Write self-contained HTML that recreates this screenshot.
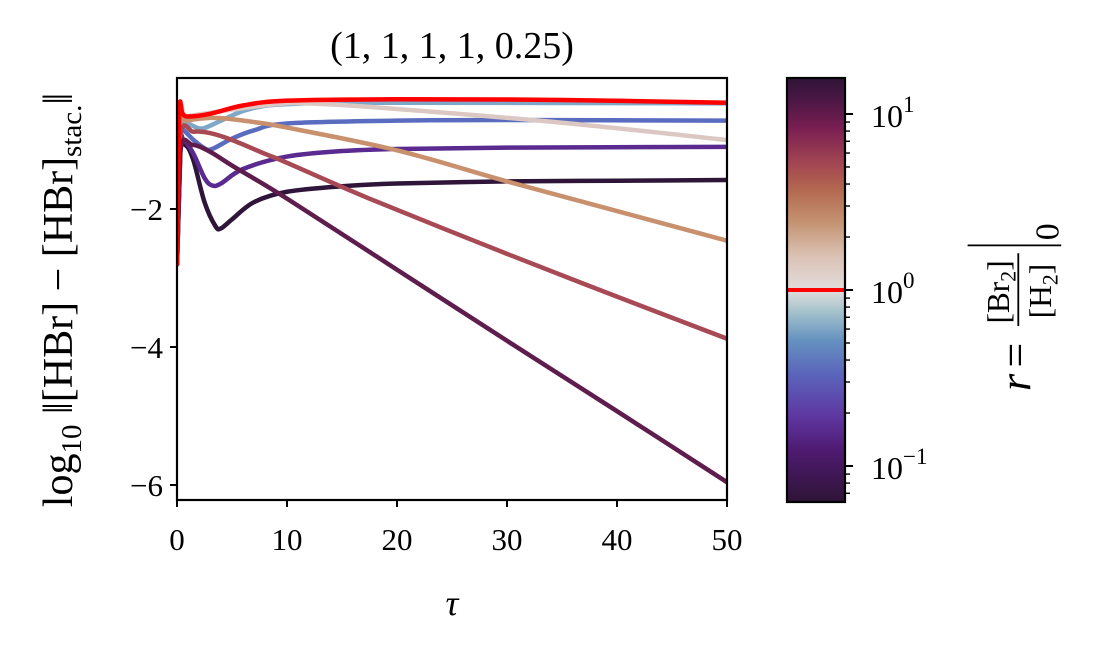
<!DOCTYPE html>
<html><head><meta charset="utf-8"><style>
body{margin:0;background:#fff;}
svg{display:block;font-family:"Liberation Serif",serif;}
</style></head><body>
<svg id="chart" width="1110" height="660" viewBox="0 0 1110 660" xmlns="http://www.w3.org/2000/svg">
<defs>
<linearGradient id="cmap" x1="0" y1="1" x2="0" y2="0">
<stop offset="0" stop-color="#2f1436"/>
<stop offset="0.12" stop-color="#4e1a70"/>
<stop offset="0.2" stop-color="#5e36a0"/>
<stop offset="0.3" stop-color="#5b64bb"/>
<stop offset="0.38" stop-color="#6491c0"/>
<stop offset="0.45" stop-color="#a5c3cc"/>
<stop offset="0.5" stop-color="#e2dcdc"/>
<stop offset="0.58" stop-color="#dbc2b4"/>
<stop offset="0.66" stop-color="#c49371"/>
<stop offset="0.74" stop-color="#b2664f"/>
<stop offset="0.8" stop-color="#a24552"/>
<stop offset="0.88" stop-color="#7a1f52"/>
<stop offset="0.95" stop-color="#4a1645"/>
<stop offset="1" stop-color="#2f1436"/>
</linearGradient>
</defs>
<text x="452" y="58" font-size="38" text-anchor="middle">(1, 1, 1, 1, 0.25)</text>
<g id="plot"></g>
<g id="axes"></g>
<text x="452" y="615" font-size="36" font-style="italic" text-anchor="middle">τ</text>
<text transform="translate(72,300) rotate(-90)" font-size="42" text-anchor="middle">log<tspan font-size="29" dy="9">10</tspan><tspan dy="-9"> ‖[HBr] − [HBr]</tspan><tspan font-size="29" dy="9">stac.</tspan><tspan dy="-9">‖</tspan></text>
<g id="cbar"></g>
<g transform="translate(1030,300) rotate(-90) scale(1.3)" font-size="34">
<text x="-70" y="0" font-style="italic">r</text>
<text x="-52" y="0">=</text>
<text x="-18" y="-16" font-size="24">[Br<tspan font-size="17" dy="5">2</tspan><tspan dy="-5">]</tspan></text>
<line x1="-20" y1="-9" x2="36" y2="-9" stroke="#000" stroke-width="1.4"/>
<text x="-14" y="16" font-size="24">[H<tspan font-size="17" dy="5">2</tspan><tspan dy="-5">]</tspan></text>
<line x1="42" y1="-48" x2="42" y2="24" stroke="#000" stroke-width="1.4"/>
<text x="46" y="22" font-size="26">0</text>
</g>
</svg>
<script>
const xTicks=[0,10,20,30,40,50];
const yTicks=[-2,-4,-6];
const rValues=[0.08,0.2,0.4,0.7,1.5,2.5,5,12,1];
const colors=["#2e1539","#5a2a90","#5a6cc0","#7fa8c8","#dcc8c3","#c9906e","#a84a55","#5e1d4c","#ff0000"];
const tau0=[0,0.3,0.8,1.5,2.5,3.5,4,5,7,10,15,20,30,40,50];
const val0=[-2.8,-1.2,-1.08,-1.3,-1.9,-2.25,-2.28,-2.15,-1.9,-1.75,-1.67,-1.63,-1.6,-1.59,-1.58];
const tau1=[0,0.3,0.6,1.5,2.5,3.2,4,6,10,15,20,30,50];
const val1=[-2.8,-1.1,-1.0,-1.2,-1.55,-1.66,-1.63,-1.42,-1.24,-1.16,-1.13,-1.11,-1.10];
const tau2=[0,0.3,0.6,1.5,2.5,3.2,5,7,10,20,30,50];
const val2=[-2.8,-0.9,-0.86,-1.0,-1.12,-1.13,-0.98,-0.86,-0.76,-0.72,-0.71,-0.72];
const tau3=[0,0.3,0.6,1.5,2.4,4,6.4,10,20,50];
const val3=[-2.8,-0.75,-0.72,-0.8,-0.83,-0.72,-0.56,-0.48,-0.46,-0.47];
const tau4=[0,0.3,0.7,2,5,9,12,20,35,50];
const val4=[-2.8,-0.66,-0.66,-0.63,-0.56,-0.48,-0.47,-0.55,-0.75,-1.0];
const tau5=[0,0.3,1,3,4.5,7,10,20,30,40,50];
const val5=[-2.8,-0.8,-0.72,-0.68,-0.69,-0.74,-0.82,-1.15,-1.6,-2.03,-2.46];
const tau6=[0,0.3,1.5,3,5,8,10,17.5,30,40,50];
const val6=[-2.8,-0.95,-0.88,-0.9,-1.0,-1.2,-1.33,-1.85,-2.65,-3.27,-3.88];
const tau7=[0,0.3,1.4,3,5,10,20,30,40,50];
const val7=[-2.8,-1.15,-1.07,-1.17,-1.37,-1.85,-2.88,-3.91,-4.93,-5.96];
const tau8=[0,0.2,0.5,1,3,6,10,20,35,50];
const val8=[-2.8,-0.6,-0.62,-0.66,-0.62,-0.5,-0.43,-0.41,-0.42,-0.46];
const allTau=[tau0,tau1,tau2,tau3,tau4,tau5,tau6,tau7,tau8];
const allVal=[val0,val1,val2,val3,val4,val5,val6,val7,val8];

const NS="http://www.w3.org/2000/svg";
const L=177,R=727,T=78,B=500;
const X=t=>L+(t-0)/(50-0)*(R-L);
const Y=v=>209-(v+2)*69;
const CT=78,CB=502,CL=787,CR=845;
const logMin=-1.2045,logMax=1.2045;
const CY=r=>CB-(Math.log10(r)-logMin)/(logMax-logMin)*(CB-CT);
function mk(tag,attrs,parent){const e=document.createElementNS(NS,tag);for(const k in attrs)e.setAttribute(k,attrs[k]);parent.appendChild(e);return e;}
const plot=document.getElementById('plot');
const clip=mk('clipPath',{id:'clipP'},plot);mk('rect',{x:L,y:T,width:R-L,height:B-T},clip);
function pathFor(ts,vs){const p=ts.map((t,i)=>[X(t),Y(vs[i])]);let d=`M${p[0][0]},${p[0][1]}`;
for(let i=0;i<p.length-1;i++){const p0=p[Math.max(i-1,0)],p1=p[i],p2=p[i+1],p3=p[Math.min(i+2,p.length-1)];
if(i===0){d+=` L${p2[0]},${p2[1]}`;continue;}
const c1=[p1[0]+(p2[0]-p0[0])/6,p1[1]+(p2[1]-p0[1])/6],c2=[p2[0]-(p3[0]-p1[0])/6,p2[1]-(p3[1]-p1[1])/6];
d+=` C${c1[0]},${c1[1]} ${c2[0]},${c2[1]} ${p2[0]},${p2[1]}`;}return d;}
allTau.forEach((ts,i)=>{
const el=mk('path',{d:pathFor(ts,allVal[i]),fill:'none',stroke:colors[i],'stroke-width':4.5,'stroke-linejoin':'round','stroke-linecap':'round','clip-path':'url(#clipP)'},plot);


});
const axes=document.getElementById('axes');
mk('rect',{x:L,y:T,width:R-L,height:B-T,fill:'none',stroke:'#000','stroke-width':2.2},axes);
xTicks.forEach(t=>{mk('line',{x1:X(t),x2:X(t),y1:B,y2:B+7,stroke:'#000','stroke-width':2},axes);
const tx=mk('text',{x:X(t),y:B+50,'font-size':31,'text-anchor':'middle'},axes);tx.textContent=t;

});
yTicks.forEach(v=>{mk('line',{x1:L-7,x2:L,y1:Y(v),y2:Y(v),stroke:'#000','stroke-width':2},axes);
const tx=mk('text',{x:L-14,y:Y(v)+11,'font-size':31,'text-anchor':'end'},axes);tx.textContent='−'+Math.abs(v);

});
const cb=document.getElementById('cbar');
mk('rect',{x:CL,y:CT,width:CR-CL,height:CB-CT,fill:'url(#cmap)'},cb);
mk('line',{x1:CL,x2:CR,y1:CY(1),y2:CY(1),stroke:'#ff0000','stroke-width':4},cb);
mk('rect',{x:CL,y:CT,width:CR-CL,height:CB-CT,fill:'none',stroke:'#000','stroke-width':2.2},cb);
for(let k=-2;k<=1;k++)for(let m=1;m<=9;m++){const r=m*Math.pow(10,k);const lr=Math.log10(r);if(lr<logMin||lr>logMax)continue;
const y=CY(r);mk('line',{x1:CR,x2:CR+(m===1?8:5),y1:y,y2:y,stroke:'#000','stroke-width':m===1?2:1.4},cb);
if(m===1){const tx=mk('text',{x:CR+26,y:y+13,'font-size':32},cb);tx.innerHTML='10<tspan font-size="23" dy="-15">'+(k<0?'−'+(-k):k)+'</tspan>';

}}
</script>
</body></html>
